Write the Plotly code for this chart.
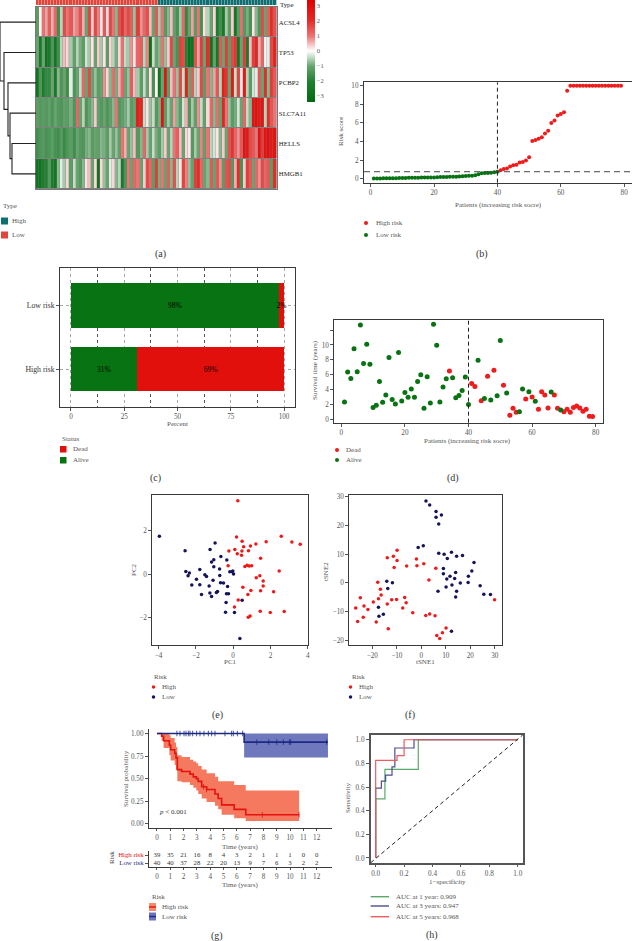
import plotly.graph_objects as go

W, H = 632, 941
SERIF = "Liberation Serif"
GREEN = "#077312"
RED = "#e2100c"
NAVY = "#14145c"
TICK = "#555555"
LINE = "#3a3a3a"
LBL = 7

# ---------- (a) heatmap ----------
genes = ["ACSL4", "TP53", "PCBP2", "SLC7A11", "HELLS", "HMGB1"]
acsl4 = [-1.2,0.1,1.0,0.7,1.3,0.6,1.2,-1.6,-0.5,1.6, 1.0,1.4,0.7,0.9,1.5,0.6,-1.0,1.7,0.4,1.6,
         0.9,0.2,1.4,0.3,1.6,1.0,-0.8,1.5,1.9,1.2, 1.6,1.3,-0.7,1.8,0.8,1.2,1.5,0.5,-1.0,1.4,
         -0.6,1.0,-1.3,-0.8,0.5,-1.1,-1.5,-0.6,1.2,-1.8, -1.0,0.7,-1.2,1.0,-1.5,0.2,-0.5,-1.0,0.3,-2.2,
         -1.6,-2.4,-0.6,-1.2,0.4,-2.6,-1.2,1.1,-1.3,-0.9, -1.5,0.2,-0.8,-1.4,1.6,-1.0,1.3,2.0,1.5]
tp53 = [-1.0,-2.4,-1.0,-2.8,-2.4,-1.4,-2.6,-1.6,-0.5,0.5, 0.3,-0.6,-1.1,-0.5,-0.9,-1.2,-0.3,-0.6,0.2,-1.0,
        0.4,-0.6,0.2,-1.2,0.3,-0.5,-0.9,0.3,1.0,-0.4, -0.6,0.8,0.2,1.2,1.3,-0.5,0.9,-2.9,-0.4,-1.0,
        -0.8,1.0,-0.7,0.4,1.6,-1.0,-1.5,1.8,1.6,-2.0, -3.0,-2.8,1.5,0.7,1.8,-1.0,2.0,-2.8,-1.1,-2.5,
        1.4,-1.0,1.8,-1.2,1.6,1.9,-2.6,-1.0,1.8,-2.2, 0.5,1.8,2.2,0.6,1.2,0.1,-0.2,1.6,2.2]
pcbp2 = [-2.8,-1.4,-2.2,-1.8,-1.8,-1.0,-2.4,-0.8,-1.4,-1.0, -1.6,-0.2,-1.4,-1.0,-0.4,1.2,-1.0,1.6,-1.0,-0.7,
         -1.2,-1.0,0.8,0.3,-0.8,1.1,-0.9,0.6,1.2,-1.0, -0.7,1.3,0.5,-0.6,-1.2,-0.4,-1.0,0.2,-1.5,0.1,
         -2.6,-1.0,2.8,-1.2,0.5,1.0,-0.7,1.6,-0.4,2.4, -1.0,1.3,-0.5,0.4,1.6,-1.2,1.0,-0.8,0.7,1.4,
         -0.5,2.4,1.9,-1.0,2.6,-0.4,1.7,0.2,2.6,-0.5, -1.2,-0.3,-0.2,1.4,-1.0,2.0,-0.8,1.8,1.4]
slc7a11 = [-1.2,-1.3,-1.2,-1.3,-1.1,-1.4,-1.0,-1.3,-1.4,-1.1, -1.2,-0.9,-1.4,1.2,-1.0,-0.5,-1.4,-1.0,-0.8,0.4,
           -1.1,-1.3,-1.0,-1.4,-1.1,-0.8,1.0,-1.3,-1.1,-0.9, -0.6,-1.2,-1.0,2.4,2.2,-0.4,0.2,-0.7,-0.4,-1.3,
           -0.9,2.8,-1.2,-0.6,-1.0,0.7,-0.8,-1.2,-0.3,0.6, -1.4,-0.6,-1.1,0.8,-0.4,-1.1,0.3,1.2,-0.8,1.1,
           -1.0,2.2,1.0,-0.7,-1.2,-0.9,-0.3,-1.0,1.2,-0.4, -0.8,2.8,2.9,2.6,2.8,-0.5,2.0,1.4,1.0]
hells = [-1.6,-1.4,-1.3,-1.5,-1.4,-1.2,-1.5,-1.6,-1.3,-1.7, -1.4,-1.2,-1.6,-1.0,-1.3,-1.4,-0.9,-0.8,-1.2,-1.0,
         -1.1,-0.8,-0.9,-1.2,-0.6,-1.0,-0.7,-1.1,1.0,0.6, -1.0,-0.7,0.5,-1.3,-0.8,1.2,-0.6,-1.0,-0.4,-0.9,
         -1.2,-0.6,0.4,-1.0,-0.5,1.0,1.3,0.5,-1.0,0.3, 0.2,-1.3,-0.6,-1.0,0.9,-1.1,1.0,-0.5,-0.3,0.2,
         -0.8,0.4,-1.0,1.5,1.9,1.2,0.8,1.4,2.8,2.6, 1.6,1.4,1.0,2.8,1.8,2.8,2.9,2.6,2.8]
hmgb1 = [-2.8,-2.8,-2.2,-2.0,-1.3,-2.2,-2.6,-0.8,-0.2,-0.6, 0.3,-1.2,-0.4,-1.0,-1.3,-0.8,0.2,0.5,-1.0,0.3,
         -2.8,0.3,-0.7,-1.0,-0.2,0.3,-0.8,-0.5,-2.4,-1.4, 1.0,-1.0,1.2,1.0,-1.0,0.4,1.6,1.2,-1.2,1.8,
         -0.9,1.0,-1.0,1.3,-0.8,1.5,-0.5,0.2,1.7,0.9, -0.7,-1.0,1.8,2.0,1.2,-1.0,-0.8,1.4,-1.0,1.4,
         0.8,-1.2,1.5,1.6,-1.3,0.6,2.0,-1.5,0.4,1.8, 1.4,-1.0,1.2,0.8,1.6,1.2,1.4,-1.2,2.0]
heat_rows = [acsl4, tp53, pcbp2, slc7a11, hells, hmgb1]
# 40 low-risk then 39 high-risk patients
type_low_count, type_high_count = 40, 39
# dendrogram merges: (row a, row b, height)
dendro_merges = [(4, 5, 0.667), (3, 4.5, 0.722), (2, 3.75, 0.778), (1, 2.875, 0.889), (0, 1.94, 1.0)]
dendro_child_heights = [(0, 0), (0, 0.667), (0, 0.722), (0, 0.778), (0, 0.889)]

# ---------- (b) risk score ----------
risk_low = [0.03,0.03,0.03,0.04,0.04,0.05,0.05,0.06,0.07,0.07,0.08,0.09,0.09,0.1,0.1,0.12,0.12,0.13,0.13,0.14,
            0.16,0.17,0.18,0.19,0.2,0.21,0.22,0.25,0.27,0.29,0.31,0.33,0.36,0.48,0.58,0.6,0.61,0.63,0.7,0.74]
risk_high = [0.9,1.05,1.1,1.3,1.45,1.5,1.75,1.8,1.95,2.3,4.05,4.15,4.3,4.45,4.85,5.15,6.0,6.25,6.8,6.95,7.15,9.45,
             10,10,10,10,10,10,10,10,10,10,10,10,10,10,10,10,10]
risk_cutoff_x, risk_cutoff_y = 40, 0.75

# ---------- (c) status bars ----------
groups = ["High risk", "Low risk"]
alive_pct = [31, 97.5]
dead_pct = [69, 2.5]
alive_lbl = ["31%", "98%"]
dead_lbl = ["69%", "2%"]

# ---------- (d) survival ----------
surv_time = [2.33,6.37,5.5,9.5,6.4,12.7,7.5,10.1,7.4,1.6,1.9,5.07,2.3,3.27,8.3,2.65,2.06,9.0,2.47,3.6,
             2.96,4.08,2.96,5.07,6.0,1.48,5.74,2.2,12.8,9.95,2.33,4.35,5.47,6.5,5.6,2.9,3.2,3.86,5.7,2.0,
             4.8,4.4,7.94,2.5,2.78,5.78,2.6,6.6,3.18,10.6,4.57,3.54,0.54,1.48,0.94,1.0,4.08,2.73,3.72,3.0,
             2.42,1.35,3.72,3.27,1.52,3.68,3.27,1.48,1.26,1.03,1.35,0.94,1.57,1.8,1.52,1.08,1.35,0.4,0.36]
dead_ids = [34,41,42,44,46,48,51,53,54,55,58,60,62,63,64,65,67,68,70,71,72,73,74,75,76,77,78,79]

# ---------- (e) PCA ----------
pc_low_x = [-3.96,-2.58,-2.54,-2.35,-2.42,-1.79,-1.97,-2.22,-1.79,-1.70,-1.52,-1.43,-1.29,-1.08,-1.25,-1.16,-0.84,-0.90,
            -1.24,-0.97,-1.16,-1.04,-1.04,-0.66,-0.73,-0.72,-0.68,-0.52,-0.34,-0.30,-0.36,-0.25,-0.38,-0.41,0.07,-0.18,-0.05,-0.02,0.02,0.48,0.36]
pc_low_y = [1.73,1.07,0.12,0.05,-0.08,0.21,-0.23,-0.50,-0.49,-0.93,-0.03,-0.11,-0.54,-0.28,-0.86,-1.02,-0.80,-0.84,
            1.12,1.42,0.55,0.66,0.34,0.80,0.23,-0.06,-0.40,-0.41,0.64,-0.57,-0.90,-0.90,-1.30,-1.74,-1.76,0.11,0.11,0.14,0,-1.19,-2.94]
pc_high_x = [0.25,0.18,0.48,-0.23,0.09,0.22,0.47,0.45,0.56,0.82,0.93,1.22,1.77,2.58,3.15,3.60,1.47,-0.27,0.63,0.75,0.86,0.99,
             2.47,1.43,1.24,1.61,1.61,0.52,0.95,1.47,2.17,0.79,0.27,0.07,1.45,1.99,2.74,0.81,0.91]
pc_high_y = [3.35,1.70,1.50,1.06,1.12,0.93,1.06,0.86,1.25,1.07,1.28,1.38,1.48,1.73,1.47,1.36,0.72,0.38,0.35,0.40,0.37,0.38,
             0.14,-0.08,-0.17,-0.32,-0.54,-0.60,-0.75,-0.76,-0.81,-0.93,-1.18,-1.50,-1.70,-1.76,-1.71,-1.97,-1.91]

# ---------- (f) tSNE ----------
ts_low_x = [1.9,3.4,6.0,8.2,6.0,7.1,-1.3,0.8,7.1,9.3,10.6,12.3,14.4,16.8,21.5,9.0,14.0,20.6,9.0,11.7,10.4,13.6,19.2,15.9,19.1,
            12.5,10.1,24.0,6.8,14.4,25.5,28.2,14.0,-14.1,-11.8,-13.7,-17.5,-15.5,-17.3,12.3]
ts_low_y = [28.5,27.1,24.8,23.6,22.8,20.5,12.3,12.9,10.3,9.9,8.5,10.6,9.2,9.5,7.1,5.0,3.6,4.1,3.1,2.3,1.3,1.5,2.3,-0.1,0.1,
            -0.8,-1.5,-1.0,-3.0,-3.0,-4.0,-4.1,-5.0,0.5,0.0,-2.0,-8.5,-11.0,-11.7,-16.9]
ts_high_x = [-9.9,-13.9,-11.4,-9.9,-11.1,-6.0,-2.0,-1.8,1.0,5.9,3.1,-17.8,-16.7,-16.4,-17.5,-24.9,-19.6,-12.1,-10.1,-6.8,-6.2,-13.9,
             -23.4,-26.8,-21.8,-7.6,-3.5,-23.7,-26.0,-18.4,-13.5,1.8,3.4,5.6,10.1,8.6,6.3,7.5,29.9]
ts_high_y = [11.3,8.7,9.2,7.8,5.3,5.8,8.3,5.9,6.6,5.1,1.0,0.2,-2.3,-4.3,-5.6,-5.2,-6.7,-5.9,-5.8,-5.1,-7.0,-7.4,
             -8.1,-8.8,-9.3,-8.8,-10.5,-12.0,-13.5,-13.7,-16.0,-11.4,-10.9,-11.5,-15.8,-17.4,-18.4,-19.4,-5.9]

# ---------- (g) survival curves ----------
km_high_t = [0,0.35,0.5,0.93,1.03,1.33,1.43,1.53,1.85,2.48,2.73,2.95,3.1,3.36,3.73,4.36,4.6,4.86,5.8,6.67,10.68]
km_high_s = [1,0.97,0.92,0.87,0.82,0.78,0.73,0.60,0.58,0.55,0.52,0.50,0.47,0.41,0.38,0.33,0.28,0.21,0.16,0.10,0.10]
km_high_up = [1,1,1,.98,.95,.90,.85,.76,.74,.71,.69,.67,.64,.60,.56,.52,.47,.47,.43,.37,.37]
km_high_lo = [1,.92,.84,.76,.70,.65,.60,.47,.46,.43,.40,.37,.33,.28,.24,.20,.16,.10,.06,.03,.03]
km_low_t = [0, 6.55, 12.85]
km_low_s = [1, 0.905, 0.905]
km_low_up = [1, 1, 1]
km_low_lo = [1, 0.733, 0.733]
cens_low_t = [1.5,1.73,2.03,2.18,2.36,2.48,2.68,2.98,3.23,3.53,3.86,4.11,4.36,5.11,5.61,5.74,6.04,6.44,
              7.5,8.4,9.0,9.5,9.95,10.05,12.75]
cens_low_s = [1]*18 + [0.905]*7
cens_high_t = [3.5, 3.73, 7.92, 10.68]
cens_high_s = [0.41, 0.38, 0.10, 0.10]
time_ticks = list(range(13))
at_risk_high = [39,35,21,16,8,4,3,2,1,1,1,0,0]
at_risk_low = [40,40,37,28,22,20,13,9,7,6,3,2,2]

# ---------- (h) ROC ----------
roc1_x = [0,0,.065,.065,.3,.3,1]
roc1_y = [0,.5,.5,.75,.75,1,1]
roc3_x = [0,0,.04,.04,.07,.07,.115,.115,.135,.135,.27,.27,1]
roc3_y = [0,.59,.59,.65,.65,.7,.7,.77,.77,.93,.93,1,1]
roc5_x = [0,0,.15,.15,.2,.2,1]
roc5_y = [0,.825,.825,.865,.865,1,1]
roc_labels = ["AUC at 1 year: 0.909", "AUC at 3 years: 0.947", "AUC at 5 years: 0.968"]
roc_colors = ["#5aa96a", "#4c4c8e", "#f15a5a"]


def dx(l, r):
    return [l / W, r / W]


def dy(t, b):
    return [1 - b / H, 1 - t / H]


fig = go.Figure()
layout_axes = {}


def axes(n, box, xr, yr, xextra=None, yextra=None, mirror=True, lw=1):
    l, r, t, b = box
    xa = dict(domain=dx(l, r), range=xr, anchor=f"y{n}", showgrid=False, zeroline=False,
              showline=True, linecolor=LINE, linewidth=lw, mirror=mirror,
              ticks="outside", ticklen=3, tickwidth=0.7, tickcolor=TICK,
              tickfont=dict(family=SERIF, size=7.2, color=TICK))
    ya = dict(domain=dy(t, b), range=yr, anchor=f"x{n}", showgrid=False, zeroline=False,
              showline=True, linecolor=LINE, linewidth=lw, mirror=mirror,
              ticks="outside", ticklen=3, tickwidth=0.7, tickcolor=TICK,
              tickfont=dict(family=SERIF, size=7.2, color=TICK))
    xa.update(xextra or {})
    ya.update(yextra or {})
    s = "" if n == 1 else str(n)
    layout_axes[f"xaxis{s}"] = xa
    layout_axes[f"yaxis{s}"] = ya


def ref(n):
    return dict(xaxis=f"x{n}" if n > 1 else "x", yaxis=f"y{n}" if n > 1 else "y")


annotations = []
shapes = []


def text(x, y, s, size=LBL, color="#444444", anchor="center", angle=0):
    annotations.append(dict(text=s, x=x / W, y=1 - y / H, xref="paper", yref="paper", showarrow=False,
                            xanchor=anchor, yanchor="middle", textangle=angle,
                            font=dict(family=SERIF, size=size, color=color)))


def dot(x, y, color, d=4):
    shapes.append(dict(type="circle", xref="paper", yref="paper", x0=(x - d / 2) / W, x1=(x + d / 2) / W,
                       y0=1 - (y + d / 2) / H, y1=1 - (y - d / 2) / H, fillcolor=color, line=dict(width=0)))


def square(x0, x1, y0, y1, color):
    shapes.append(dict(type="rect", xref="paper", yref="paper", x0=x0 / W, x1=x1 / W,
                       y0=1 - y1 / H, y1=1 - y0 / H, fillcolor=color, line=dict(width=0)))


def hline(x0, x1, y, color, width=1.4):
    shapes.append(dict(type="line", xref="paper", yref="paper", x0=x0 / W, x1=x1 / W,
                       y0=1 - y / H, y1=1 - y / H, line=dict(color=color, width=width)))


# ---- (a)
colorscale = [[0, "#006a10"], [0.2, "#1f8030"], [0.353, "#66a66e"], [0.44, "#c4dcc6"], [0.5, "#ffffff"],
              [0.56, "#f8c8c8"], [0.647, "#ee7272"], [0.8, "#e42a24"], [1, "#e00000"]]
patients_idx = list(range(1, type_low_count + type_high_count + 1))
shapes.append(dict(type="rect", xref="x domain", yref="y domain", x0=0, x1=1, y0=0, y1=1,
                   fillcolor="#808080", line=dict(width=0), layer="below"))
fig.add_trace(go.Heatmap(z=heat_rows, x=patients_idx, y=genes, zmin=-3.4, zmax=3.4, colorscale=colorscale,
                         xgap=0.3, ygap=1,
                         colorbar=dict(thickness=8, lenmode="pixels", len=102, x=307 / W, xanchor="left",
                                       y=1, yanchor="top", outlinewidth=0, ticks="", ypad=0, xpad=0,
                                       tickvals=[-3, -2, -1, 0, 1, 2, 3],
                                       tickfont=dict(family=SERIF, size=6.5, color=TICK)),
                         **ref(1)))
axes(1, (36, 276.5, 7, 189), [0.5, 79.5], [5.5, -0.5],
     xextra=dict(showticklabels=False, ticks="", linecolor="#777777"),
     yextra=dict(side="right", ticks="", linecolor="#777777", ticklen=0,
                 tickfont=dict(family=SERIF, size=6.8, color="#222222")))

type_z = [[1] * type_low_count + [0] * type_high_count]
fig.add_trace(go.Heatmap(z=type_z, x=patients_idx, y=["Type"], zmin=0, zmax=1, xgap=0.35,
                         colorscale=[[0, "#0f6f70"], [1, "#e0453c"]], showscale=False, **ref(2)))
axes(2, (36, 276.5, 0, 5), [0.5, 79.5], [-0.5, 0.5],
     xextra=dict(showticklabels=False, ticks="", showline=False),
     yextra=dict(showticklabels=False, ticks="", showline=False))
text(278, 4.5, "Type", 6.8, "#222222", "left")

dn_x, dn_y = [], []
for (a, b, h), (ca, cb) in zip(dendro_merges, dendro_child_heights):
    dn_x += [ca, h, h, cb, None]
    dn_y += [a, a, b, b, None]
fig.add_trace(go.Scatter(x=dn_x, y=dn_y, mode="lines", line=dict(color="#222222", width=1.1), showlegend=False,
                         **ref(3)))
axes(3, (0, 36, 7, 189), [1, 0], [5.5, -0.5],
     xextra=dict(visible=False), yextra=dict(visible=False))

text(1, 206, "Type", LBL, "#555555", "left")
square(1, 8, 217.5, 224.5, "#0f6f70")
text(10, 221, "High", LBL, "#555555", "left")
square(1, 8, 231.5, 238.5, "#e0453c")
text(10, 235, "Low", LBL, "#555555", "left")
text(160, 254, "(a)", 10, "#333333")

# ---- (b)
idx_low = list(range(1, len(risk_low) + 1))
idx_high = list(range(len(risk_low) + 1, len(risk_low) + len(risk_high) + 1))
fig.add_trace(go.Scatter(x=idx_low, y=risk_low, mode="markers", marker=dict(color=GREEN, size=4), showlegend=False, **ref(4)))
fig.add_trace(go.Scatter(x=idx_high, y=risk_high, mode="markers", marker=dict(color="#ee1c1c", size=4), showlegend=False, **ref(4)))
axes(4, (364, 631.5, 82.3, 182.7), [-2.1, 82.3], [-0.43, 10.37],
     xextra=dict(tickvals=[0, 20, 40, 60, 80]), yextra=dict(tickvals=[0, 2, 4, 6, 8, 10]))
shapes.append(dict(type="line", xref="x4", yref="y4 domain", x0=risk_cutoff_x, x1=risk_cutoff_x, y0=0, y1=1,
                   line=dict(color="#222222", width=1, dash="4px,3px")))
shapes.append(dict(type="line", xref="x4 domain", yref="y4", x0=0, x1=1, y0=risk_cutoff_y, y1=risk_cutoff_y,
                   line=dict(color="#444444", width=1, dash="6px,4px")))
text(341, 132, "Risk score", LBL, "#555555", angle=-90)
text(498, 205, "Patients (increasing risk socre)", LBL, "#555555")
dot(366, 223, "#ee1c1c")
text(374, 223, "High risk", LBL, "#555555", "left")
dot(366, 235, GREEN)
text(374, 235, "Low risk", LBL, "#555555", "left")
text(482, 254, "(b)", 10, "#333333")

# ---- (c)
fig.add_trace(go.Bar(y=groups, x=alive_pct, orientation="h", marker=dict(color=GREEN, line=dict(width=0)), width=0.7,
                     text=alive_lbl, textposition="inside", insidetextanchor="middle", constraintext="none",
                     textangle=0, textfont=dict(family=SERIF, size=7.5, color="#000000"), showlegend=False, **ref(5)))
fig.add_trace(go.Bar(y=groups, x=dead_pct, orientation="h", marker=dict(color=RED, line=dict(width=0)), width=0.7,
                     text=dead_lbl, textposition="inside", insidetextanchor="middle", constraintext="none",
                     textangle=0, textfont=dict(family=SERIF, size=7.5, color="#000000"), showlegend=False, **ref(5)))
grid = dict(showgrid=True, gridcolor="#a8a8a8", gridwidth=0.7, griddash="dot")
axes(5, (60.3, 294.7, 268.3, 406.7), [-5, 105], [-0.595, 1.59],
     xextra=dict(tickvals=[0, 25, 50, 75, 100], **grid,
                 minor=dict(tick0=12.5, dtick=25, showgrid=True, gridcolor="#555555", gridwidth=0.7,
                            griddash="dot", ticks="")),
     yextra=dict(type="category", categoryorder="array", categoryarray=groups, **grid,
                 tickfont=dict(family=SERIF, size=7.8, color="#333333")), lw=1.2)
text(177.7, 424, "Percent", LBL, "#555555")
text(60, 439, "Status", LBL, "#555555", "left")
square(60, 66.5, 446, 452.5, RED)
text(71, 449, "Dead", LBL, "#555555", "left")
square(60, 66.5, 457, 463.5, GREEN)
text(71, 460, "Alive", LBL, "#555555", "left")
text(155, 478, "(c)", 10, "#333333")

# ---- (d)
patient_ids = list(range(1, len(surv_time) + 1))
dead_x = [i for i in patient_ids if i in dead_ids]
dead_y = [surv_time[i - 1] for i in dead_x]
alive_x = [i for i in patient_ids if i not in dead_ids]
alive_y = [surv_time[i - 1] for i in alive_x]
fig.add_trace(go.Scatter(x=dead_x, y=dead_y, mode="markers", marker=dict(color="#ee1c1c", size=5), showlegend=False, **ref(6)))
fig.add_trace(go.Scatter(x=alive_x, y=alive_y, mode="markers", marker=dict(color=GREEN, size=5), showlegend=False, **ref(6)))
axes(6, (334.3, 602.7, 320, 422.7), [-2.2, 82.2], [-0.46, 13.36],
     xextra=dict(tickvals=[0, 20, 40, 60, 80]),
     yextra=dict(tickvals=[0, 2, 4, 6, 8, 10, 12], ticktext=["0", "2", "4", "6", "8", "10", ""]))
shapes.append(dict(type="line", xref="x6", yref="y6 domain", x0=40, x1=40, y0=0, y1=1,
                   line=dict(color="#222222", width=1, dash="4px,3px")))
text(315, 370, "Survival time (years)", LBL, "#555555", angle=-90)
text(468, 441, "Patients (increasing risk socre)", LBL, "#555555")
dot(337, 450, "#ee1c1c")
text(344, 450, "Dead", LBL, "#555555", "left")
dot(337, 460, GREEN)
text(344, 460, "Alive", LBL, "#555555", "left")
text(453, 478, "(d)", 10, "#333333")

# ---- (e)
fig.add_trace(go.Scatter(x=pc_high_x, y=pc_high_y, mode="markers", marker=dict(color="#f01818", size=3.5), showlegend=False, **ref(7)))
fig.add_trace(go.Scatter(x=pc_low_x, y=pc_low_y, mode="markers", marker=dict(color=NAVY, size=3.5), showlegend=False, **ref(7)))
axes(7, (152.3, 307.7, 494.7, 645), [-4.34, 4.0], [-3.24, 3.63],
     xextra=dict(tickvals=[-4, -2, 0, 2, 4]), yextra=dict(tickvals=[-2, 0, 2]))
text(134, 570, "PC2", LBL, "#555555", angle=-90)
text(230, 662, "PC1", LBL, "#555555")
text(152, 677, "Risk", LBL, "#555555", "left")
dot(153.5, 687, "#f01818", 3.5)
text(160, 687, "High", LBL, "#555555", "left")
dot(153.5, 697, NAVY, 3.5)
text(160, 697, "Low", LBL, "#555555", "left")
text(217, 715, "(e)", 10, "#333333")

# ---- (f)
fig.add_trace(go.Scatter(x=ts_high_x, y=ts_high_y, mode="markers", marker=dict(color="#f01818", size=3.5), showlegend=False, **ref(8)))
fig.add_trace(go.Scatter(x=ts_low_x, y=ts_low_y, mode="markers", marker=dict(color=NAVY, size=3.5), showlegend=False, **ref(8)))
axes(8, (349.3, 501.7, 494.7, 645), [-29.4, 32.8], [-21.7, 30.7],
     xextra=dict(tickvals=[-20, -10, 0, 10, 20, 30]), yextra=dict(tickvals=[-20, -10, 0, 10, 20, 30]))
text(326, 572, "tSNE2", LBL, "#555555", angle=-90)
text(425, 662, "tSNE1", LBL, "#555555")
text(350, 677, "Risk", LBL, "#555555", "left")
dot(350.5, 687, "#f01818", 3.5)
text(357, 687, "High", LBL, "#555555", "left")
dot(350.5, 697, NAVY, 3.5)
text(357, 697, "Low", LBL, "#555555", "left")
text(410, 715, "(f)", 10, "#333333")

# ---- (g)
KM_RED, KM_BLUE, FILL_RED, FILL_BLUE = "#e5120e", "#1c2a85", "rgba(243,110,80,0.92)", "rgba(70,82,170,0.78)"
for t, up, lo, fill in [(km_high_t, km_high_up, km_high_lo, FILL_RED), (km_low_t, km_low_up, km_low_lo, FILL_BLUE)]:
    fig.add_trace(go.Scatter(x=t, y=up, mode="lines", line=dict(width=0, shape="hv"), showlegend=False, **ref(9)))
    fig.add_trace(go.Scatter(x=t, y=lo, mode="lines", line=dict(width=0, shape="hv"), fill="tonexty",
                             fillcolor=fill, showlegend=False, **ref(9)))
fig.add_trace(go.Scatter(x=km_high_t, y=km_high_s, mode="lines", line=dict(color=KM_RED, width=1.6, shape="hv"), showlegend=False, **ref(9)))
fig.add_trace(go.Scatter(x=km_low_t, y=km_low_s, mode="lines", line=dict(color=KM_BLUE, width=1.6, shape="hv"), showlegend=False, **ref(9)))
fig.add_trace(go.Scatter(x=cens_high_t, y=cens_high_s, mode="markers",
                         marker=dict(symbol="line-ns", size=4, line=dict(color=KM_RED, width=0.8)), showlegend=False, **ref(9)))
fig.add_trace(go.Scatter(x=cens_low_t, y=cens_low_s, mode="markers",
                         marker=dict(symbol="line-ns", size=4, line=dict(color=KM_BLUE, width=0.8)), showlegend=False, **ref(9)))
axes(9, (149, 331.7, 729, 828.3), [-0.6, 13.13], [-0.05, 1.05],
     xextra=dict(tickvals=time_ticks, ticklen=2), mirror=False,
     yextra=dict(tickvals=[0, 0.25, 0.5, 0.75, 1], tickformat=".2f"))
text(157, 812, "<i>p</i> < 0.001", LBL, "#333333", "left")
text(126, 779, "Survival probability", LBL, "#555555", angle=-90)
text(240, 846.5, "Time (years)", LBL, "#555555")

risk_rows = ["Low risk", "High risk"]
fig.add_trace(go.Scatter(x=time_ticks, y=["High risk"] * 13, mode="text", text=[str(v) for v in at_risk_high],
                         textfont=dict(family=SERIF, size=6.8, color="#333333"), showlegend=False, **ref(10)))
fig.add_trace(go.Scatter(x=time_ticks, y=["Low risk"] * 13, mode="text", text=[str(v) for v in at_risk_low],
                         textfont=dict(family=SERIF, size=6.8, color="#333333"), showlegend=False, **ref(10)))
axes(10, (149, 331.7, 851, 867), [-0.6, 13.13], [-0.5, 1.5], mirror=False,
     xextra=dict(tickvals=time_ticks, ticklen=2),
     yextra=dict(type="category", categoryorder="array", categoryarray=risk_rows,
                 tickvals=risk_rows,
                 ticktext=['<span style="color:#1c2a85">Low risk</span>', '<span style="color:#e5120e">High risk</span>'],
                 tickfont=dict(family=SERIF, size=6.8)))
text(112, 858, "Risk", LBL, "#444444", angle=-90)
text(240, 884.5, "Time (years)", LBL, "#555555")
text(150, 897, "Risk", LBL, "#555555", "left")
square(149, 156, 903, 911, "#f48a6e")
hline(149, 156, 907, KM_RED)
text(160, 907, "High risk", LBL, "#555555", "left")
square(149, 156, 912.5, 920.5, "#6a74bc")
hline(149, 156, 916.5, KM_BLUE)
text(160, 916.5, "Low risk", LBL, "#555555", "left")
text(217, 936, "(g)", 10, "#333333")

# ---- (h)
for xs, ys, c in [(roc1_x, roc1_y, roc_colors[0]), (roc3_x, roc3_y, roc_colors[1]), (roc5_x, roc5_y, roc_colors[2])]:
    fig.add_trace(go.Scatter(x=xs, y=ys, mode="lines", line=dict(color=c, width=1.2), showlegend=False, **ref(11)))
axes(11, (370.7, 522.7, 735, 862.7), [-0.035, 1.035], [-0.04, 1.04],
     xextra=dict(tickvals=[0, .2, .4, .6, .8, 1], tickformat=".1f", linecolor="#555555"),
     yextra=dict(tickvals=[0, .2, .4, .6, .8, 1], tickformat=".1f", linecolor="#555555"), lw=1.5)
shapes.append(dict(type="line", xref="x11 domain", yref="y11 domain", x0=0, x1=1, y0=0, y1=1,
                   line=dict(color="#222222", width=1, dash="4px,3px")))
text(348, 798, "Sensitivity", LBL, "#555555", angle=-90)
text(447, 882, "1−specificity", LBL, "#555555")
for yy, lab, c in zip([896.7, 906, 916.7], roc_labels, roc_colors):
    hline(370.7, 389, yy, c)
    text(394, yy, lab, LBL, "#555555", "left")
text(432, 935, "(h)", 10, "#333333")

fig.update_layout(width=W, height=H, margin=dict(l=0, r=0, t=0, b=0, autoexpand=False),
                  paper_bgcolor="white", plot_bgcolor="white", barmode="stack", showlegend=False,
                  annotations=annotations, shapes=shapes, font=dict(family=SERIF), **layout_axes)
fig.write_html("out.html", post_script="document.body.style.margin='0';",
               config=dict(displayModeBar=False))
